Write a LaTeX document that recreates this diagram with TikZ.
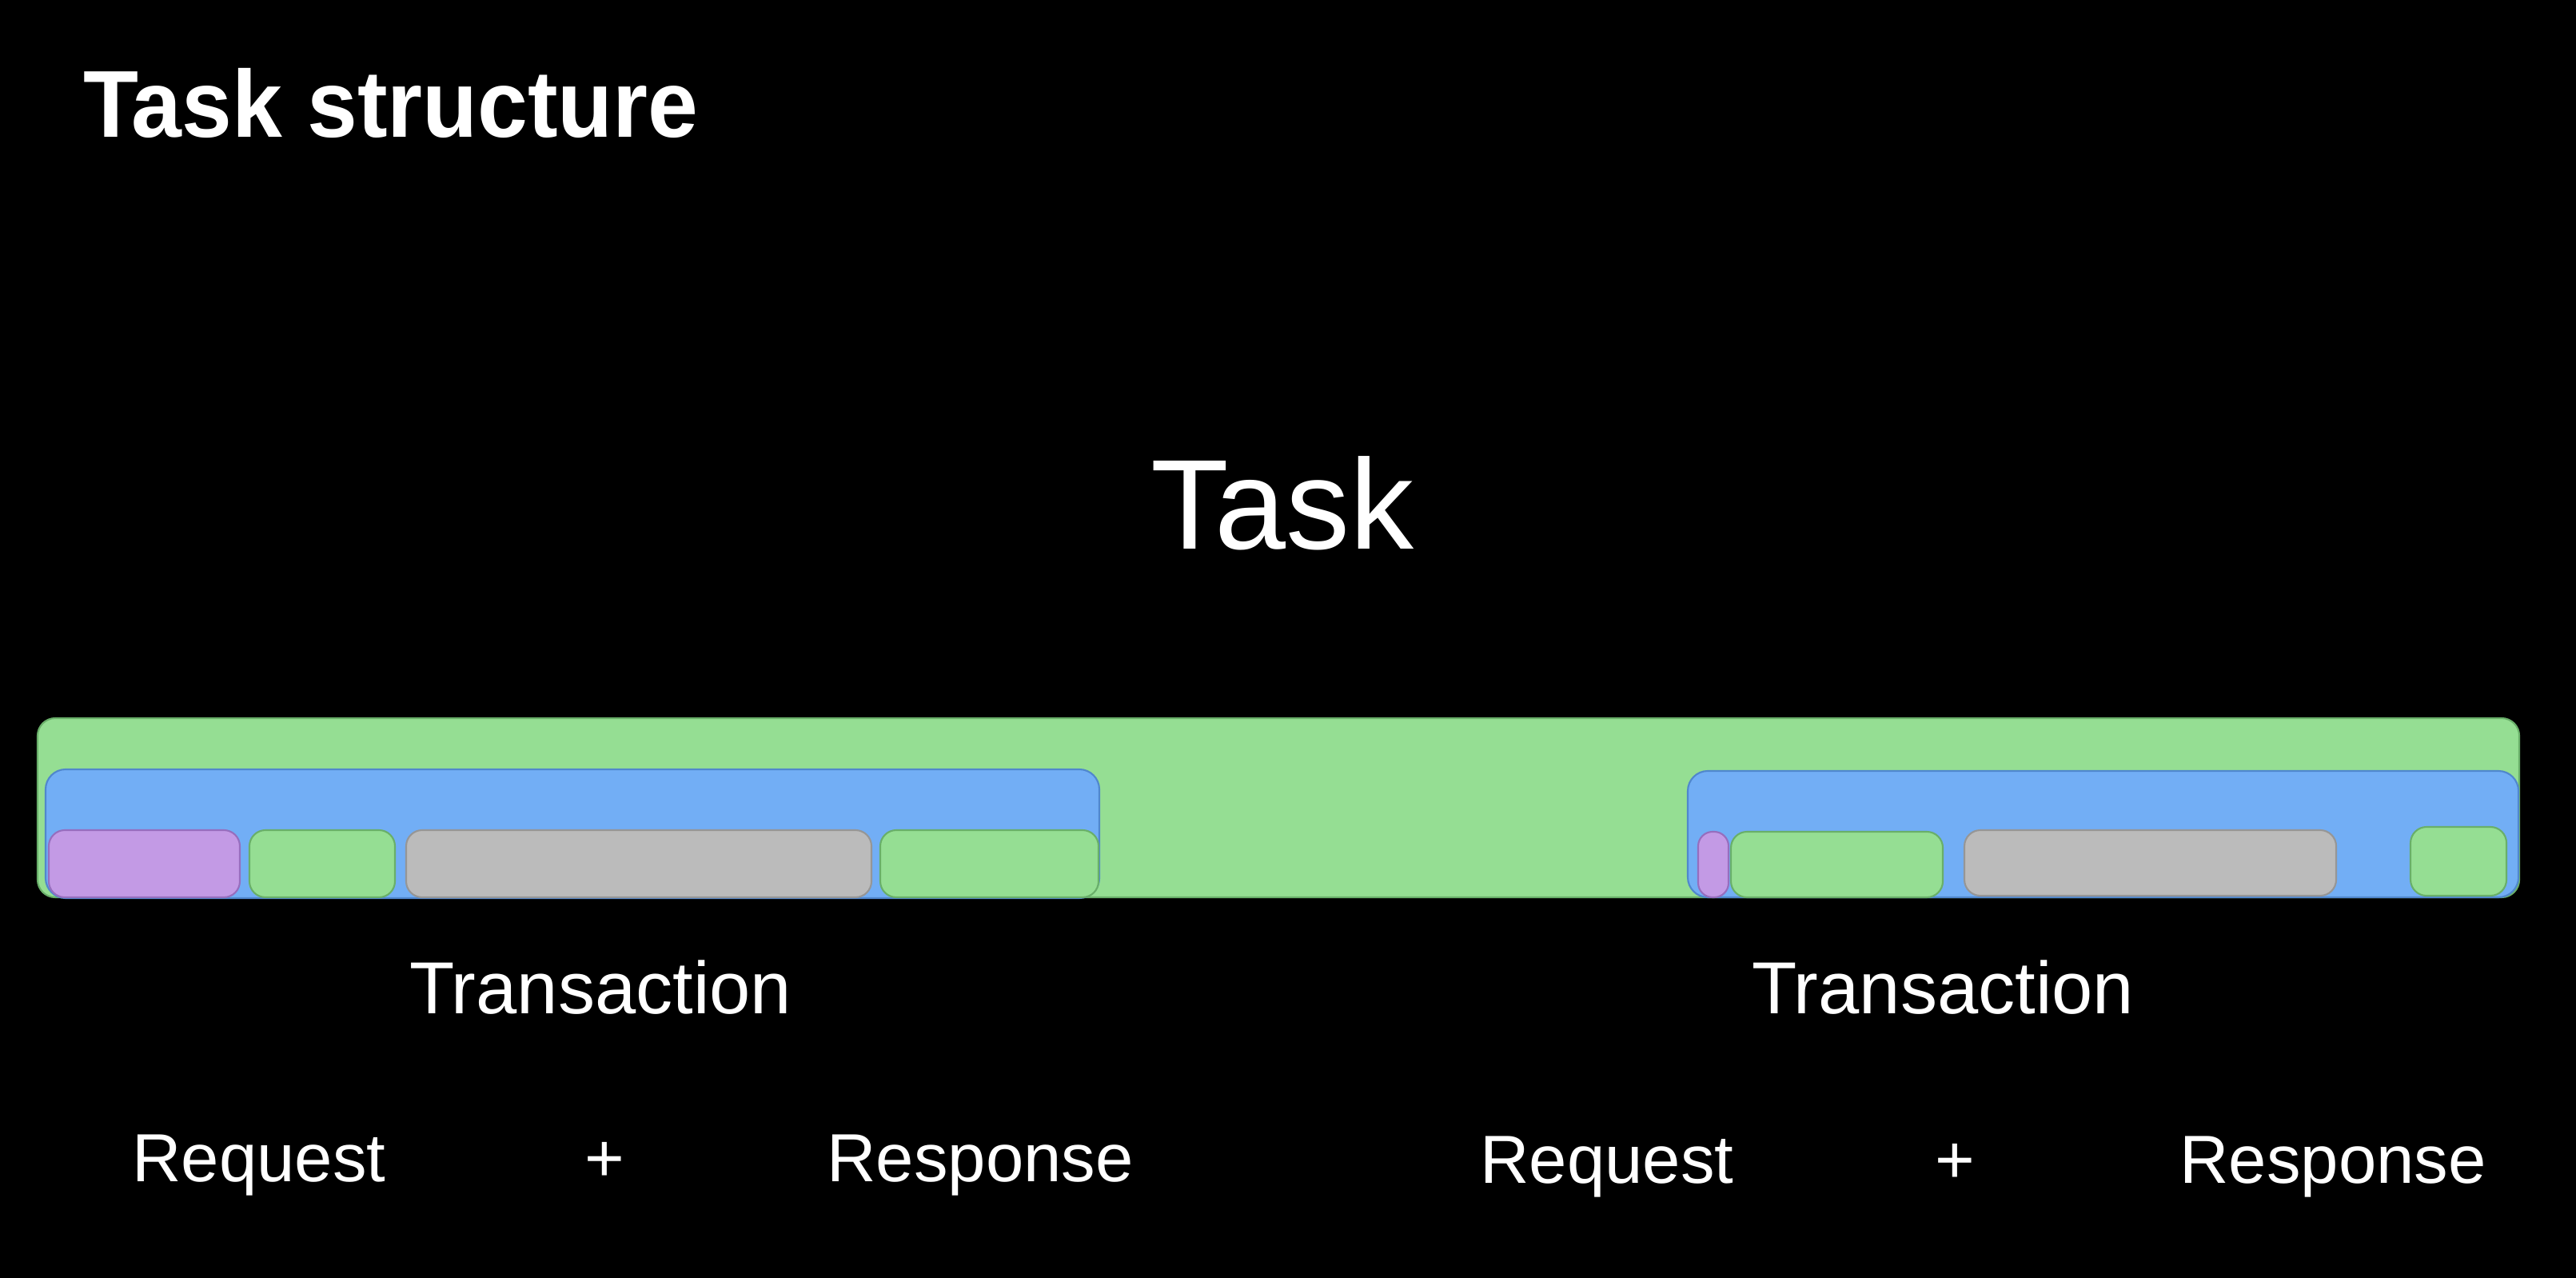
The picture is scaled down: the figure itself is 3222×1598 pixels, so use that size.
\documentclass[tikz,border=0pt]{standalone}
\usepackage{fontspec}
\setmainfont{Liberation Sans}
\newfontfamily\titlefont[FakeStretch=0.95]{Liberation Sans}
\definecolor{gfill}{RGB}{149,222,147}
\definecolor{gline}{RGB}{105,175,105}
\definecolor{bfill}{RGB}{114,174,245}
\definecolor{bline}{RGB}{80,135,205}
\definecolor{pfill}{RGB}{195,154,229}
\definecolor{pline}{RGB}{150,110,190}
\definecolor{yfill}{RGB}{187,187,187}
\definecolor{yline}{RGB}{150,150,150}
\tikzset{
  gbox/.style={fill=gfill,draw=gline,line width=0.6pt,rounded corners=0.2cm},
  bbox/.style={fill=bfill,draw=bline,line width=0.6pt,rounded corners=0.25cm},
  pbox/.style={fill=pfill,draw=pline,line width=0.6pt,rounded corners=0.2cm},
  ybox/.style={fill=yfill,draw=yline,line width=0.6pt,rounded corners=0.2cm},
  lbl/.style={text=white,inner sep=0pt,outer sep=0pt,anchor=base},
}
\begin{document}
\begin{tikzpicture}[x=0.01cm,y=-0.01cm]
\fill[black] (0,0) rectangle (3222,1598);
\useasboundingbox (0,0) rectangle (3222,1598);
% title
\node[lbl,anchor=base west] (title) at (104,172) {\titlefont\fontsize{33.8}{40}\selectfont\bfseries Task structure};
\node[lbl] (task) at (1604,687) {\fontsize{45.5}{54}\selectfont Task};
% outer task bar
\draw[gbox,rounded corners=0.22cm] (47,898) rectangle (3151,1122);
% left transaction
\draw[bbox] (57,962) rectangle (1375,1123);
\draw[pbox] (61,1038) rectangle (300,1122);
\draw[gbox] (312,1038) rectangle (494,1122);
\draw[ybox] (508,1038) rectangle (1090,1122);
\draw[gbox] (1101,1038) rectangle (1374,1122);
% right transaction
\draw[bbox] (2111,964) rectangle (3150,1122);
\draw[pbox,rounded corners=0.18cm] (2124,1040) rectangle (2162,1122);
\draw[gbox] (2165,1040) rectangle (2430,1122);
\draw[ybox] (2457,1038) rectangle (2922,1120);
\draw[gbox] (3015,1034) rectangle (3135,1120);
% labels
\node[lbl] (tr1) at (751,1267) {\fontsize{26.2}{31}\selectfont Transaction};
\node[lbl] (tr2) at (2430,1267) {\fontsize{26.2}{31}\selectfont Transaction};
\node[lbl] (rq1) at (324,1477) {\fontsize{24.2}{29}\selectfont Request};
\node[lbl] (pl1) at (756,1477) {\fontsize{24.2}{29}\selectfont +};
\node[lbl] (rs1) at (1226,1477) {\fontsize{24.2}{29}\selectfont Response};
\node[lbl] (rq2) at (2010,1479) {\fontsize{24.2}{29}\selectfont Request};
\node[lbl] (pl2) at (2445,1479) {\fontsize{24.2}{29}\selectfont +};
\node[lbl] (rs2) at (2918,1479) {\fontsize{24.2}{29}\selectfont Response};
\end{tikzpicture}
\end{document}
